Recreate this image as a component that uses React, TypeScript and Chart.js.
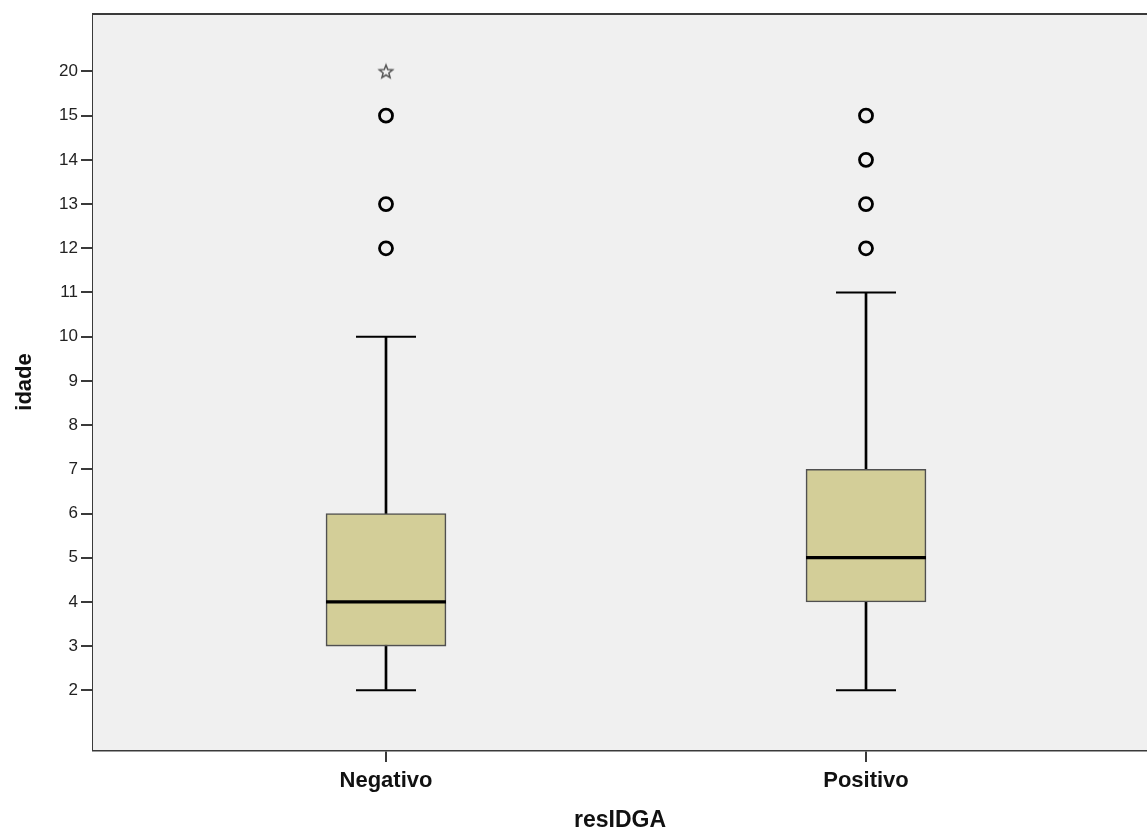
import React, { useEffect, useRef } from "react";
import { Chart, registerables } from "chart.js";

Chart.register(...registerables);

// ---- data ----
const categories = ["Negativo", "Positivo"];
const yTickValues = [2, 3, 4, 5, 6, 7, 8, 9, 10, 11, 12, 13, 14, 15, 20];
const whiskerMin = [2, 2];
const q1 = [3, 4];
const median = [4, 5];
const q3 = [6, 7];
const whiskerMax = [10, 11];
const outliersNegativo = [12, 13, 15];
const outliersPositivo = [12, 13, 14, 15];
const extremesNegativo = [20];
const xTitle = "resIDGA";
const yTitle = "idade";

// the value axis of the reference is ordinal: each tick value gets one slot
const pos = (v: number) => yTickValues.indexOf(v);

function makeStar(): HTMLCanvasElement {
  const c = document.createElement("canvas");
  c.width = 18;
  c.height = 18;
  const ctx = c.getContext("2d")!;
  ctx.strokeStyle = "#555";
  ctx.lineWidth = 1.5;
  ctx.beginPath();
  const cx = 9, cy = 9.5, R = 7, r = 3;
  for (let i = 0; i < 10; i++) {
    const a = -Math.PI / 2 + (i * Math.PI) / 5;
    const rad = i % 2 === 0 ? R : r;
    const x = cx + rad * Math.cos(a);
    const y = cy + rad * Math.sin(a);
    if (i === 0) ctx.moveTo(x, y);
    else ctx.lineTo(x, y);
  }
  ctx.closePath();
  ctx.stroke();
  return c;
}

const plotFrame = {
  id: "plotFrame",
  beforeDatasetsDraw(chart: any) {
    const { ctx, chartArea } = chart;
    ctx.save();
    ctx.fillStyle = "#F0F0F0";
    ctx.fillRect(chartArea.left, chartArea.top, chartArea.right - chartArea.left, chartArea.bottom - chartArea.top);
    ctx.restore();
  },
  afterDraw(chart: any) {
    const { ctx, chartArea } = chart;
    ctx.save();
    ctx.strokeStyle = "#3a3a3a";
    ctx.lineWidth = 2;
    ctx.beginPath();
    ctx.moveTo(chartArea.left, chartArea.top);
    ctx.lineTo(chartArea.right, chartArea.top);
    ctx.stroke();
    ctx.restore();
  },
};

export default function App() {
  const ref = useRef<HTMLCanvasElement | null>(null);

  useEffect(() => {
    if (!ref.current) return;
    const star = makeStar();
    const xs = categories.map((_, i) => i);

    const chart = new Chart(ref.current, {
      type: "bar",
      data: {
        datasets: [
          {
            type: "scatter",
            label: "outliers",
            data: [
              ...outliersNegativo.map((v) => ({ x: 0, y: pos(v) })),
              ...outliersPositivo.map((v) => ({ x: 1, y: pos(v) })),
            ],
            pointStyle: "circle",
            pointRadius: 6.5,
            pointBackgroundColor: "rgba(0,0,0,0)",
            pointBorderColor: "#000",
            pointBorderWidth: 2.8,
            order: 0,
          } as any,
          {
            type: "scatter",
            label: "extremes",
            data: extremesNegativo.map((v) => ({ x: 0, y: pos(v) })),
            pointStyle: star,
            pointRadius: 9,
            order: 0,
          } as any,
          {
            type: "scatter",
            label: "median",
            data: xs.map((x) => ({ x, y: pos(median[x]) })),
            pointStyle: "line",
            pointRadius: 60,
            pointBorderColor: "#000",
            pointBorderWidth: 3.2,
            order: 1,
          } as any,
          {
            type: "scatter",
            label: "caps",
            data: [
              ...xs.map((x) => ({ x, y: pos(whiskerMin[x]) })),
              ...xs.map((x) => ({ x, y: pos(whiskerMax[x]) })),
            ],
            pointStyle: "line",
            pointRadius: 30,
            pointBorderColor: "#000",
            pointBorderWidth: 2,
            order: 1,
          } as any,
          {
            type: "bar",
            label: "box",
            data: xs.map((x) => ({ x, y: [pos(q1[x]), pos(q3[x])] })),
            backgroundColor: "#D3CE98",
            borderColor: "#505050",
            borderWidth: 1.6,
            borderSkipped: false,
            barThickness: 120,
            grouped: false,
            order: 2,
          } as any,
          {
            type: "bar",
            label: "whisker",
            data: xs.map((x) => ({ x, y: [pos(whiskerMin[x]), pos(whiskerMax[x])] })),
            backgroundColor: "#000",
            borderWidth: 0,
            barThickness: 2,
            grouped: false,
            order: 3,
          } as any,
        ],
      },
      options: {
        animation: false,
        responsive: true,
        maintainAspectRatio: false,
        layout: { autoPadding: false, padding: { top: 14, right: 0, left: 0, bottom: 0 } },
        plugins: { legend: { display: false }, tooltip: { enabled: false } },
        scales: {
          x: {
            type: "linear",
            offset: false,
            min: -0.6104,
            max: 1.5854,
            afterBuildTicks: (scale: any) => {
              scale.ticks = xs.map((v) => ({ value: v }));
            },
            afterFit: (scale: any) => {
              scale.height = 82;
            },
            ticks: {
              callback: (v: any) => categories[Number(v)] ?? "",
              font: { family: "'Liberation Sans', Arial, sans-serif", size: 22, weight: "bold" },
              color: "#111",
              padding: 6,
              maxRotation: 0,
              autoSkip: false,
            },
            grid: { offset: false, drawOnChartArea: false, drawTicks: true, tickLength: 12, color: "#3a3a3a", lineWidth: 2 },
            border: { display: true, color: "#3a3a3a", width: 2.5 },
            title: {
              display: true,
              text: xTitle,
              font: { family: "'Liberation Sans', Arial, sans-serif", size: 23, weight: "bold" },
              color: "#111",
              padding: { top: 0, bottom: -2 },
            },
          } as any,
          y: {
            type: "linear",
            min: -1.35,
            max: 15.3,
            afterBuildTicks: (scale: any) => {
              scale.ticks = yTickValues.map((_, i) => ({ value: i }));
            },
            afterFit: (scale: any) => {
              scale.width = 93;
            },
            ticks: {
              callback: (v: any) => String(yTickValues[Number(v)] ?? ""),
              font: { family: "'Liberation Sans', Arial, sans-serif", size: 17 },
              color: "#222",
              padding: 3,
              autoSkip: false,
            },
            grid: { drawOnChartArea: false, drawTicks: true, tickLength: 12, color: "#3a3a3a", lineWidth: 2 },
            border: { display: true, color: "#3a3a3a", width: 2.5 },
            title: {
              display: true,
              text: yTitle,
              font: { family: "'Liberation Sans', Arial, sans-serif", size: 22, weight: "bold" },
              color: "#111",
              padding: { top: 12, bottom: 0 },
            },
          } as any,
        },
      },
      plugins: [plotFrame],
    });
    return () => chart.destroy();
  }, []);

  return (
    <div style={{ position: "absolute", left: 0, top: 0, width: 1147, height: 832, background: "#fff" }}>
      <canvas ref={ref} />
    </div>
  );
}
